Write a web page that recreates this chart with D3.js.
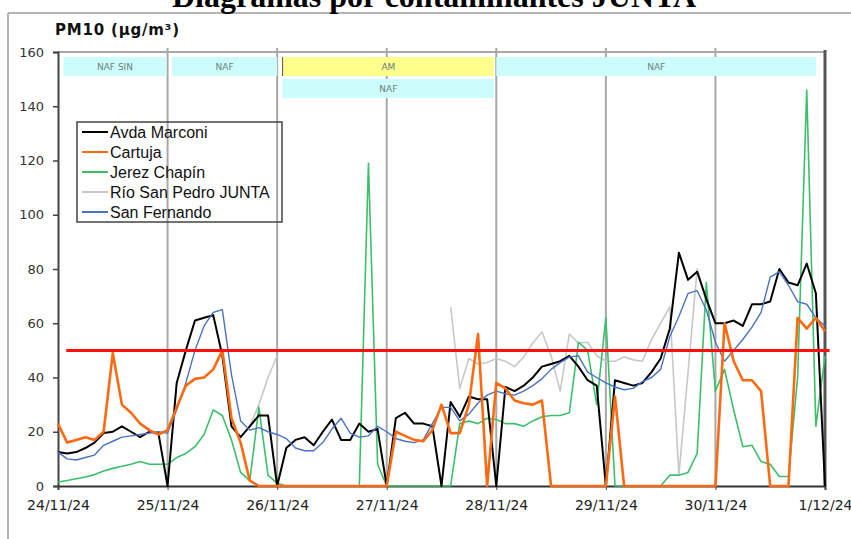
<!DOCTYPE html>
<html>
<head>
<meta charset="utf-8">
<script src="https://cdn.jsdelivr.net/npm/d3@7"></script>
<style>
  body { margin: 0; background: #fff; }
  svg { display: block; }
</style>
</head>
<body>
<div id="canvas"></div>
<script>
// PM10 hourly-ish series, one value every 2 hours from 24/11/24 00:00 to 1/12/24 00:00
var stepHours = 2;

var avdaMarconi = [12.5, 12, 12.5, 14, 16, 19.5, 20, 22, 20, 18, 20, 19.5,
  0, 38, 50, 61, 62, 63, 48, 22, 18, 22, 26, 26,
  0, 14, 17, 18, 15, 20, 24.5, 17, 17, 23, 20, 21,
  0, 25, 27, 23, 23, 22, 0, 31, 25.5, 33, 32, 32,
  0, 36.5, 35, 37, 40, 44, 45, 46, 48, 44, 39, 37,
  0, 39, 38, 37, 38, 42, 47, 58, 86, 76, 79, 69,
  60, 60, 61, 59, 67, 67, 68, 80, 75, 74, 82, 71,
  0];

var cartuja = [23, 16, 17, 18, 17, 20, 49, 30, 27, 23, 20.6, 19,
  20.6, 29, 37, 39.5, 40, 43, 50, 25, 16, 2, 0, 0,
  0, 0, 0, 0, 0, 0, 0, 0, 0, 0, 0, 0,
  0, 20, 18.5, 17, 16.5, 20.6, 30, 19.5, 19.5, 30, 56, 0,
  38, 36, 31.5, 30.5, 30, 31.5, 0, 0, 0, 0, 0, 0,
  0, 33, 0, 0, 0, 0, 0, 0, 0, 0, 0, 0,
  0, 60, 46, 39, 39, 35, 0, 0, 0, 62, 58, 62,
  57];

var jerezChapin = [1.5, 2, 2.7, 3.3, 4.2, 5.5, 6.5, 7.3, 8, 9, 8, 8,
  8, 10.5, 12, 14.5, 19, 28, 26, 17, 5, 2, 29, 4,
  1, 0, 0, 0, 0, 0, 0, 0, 0, 0, 119, 8,
  0, 0, 0, 0, 0, 0, 0, 0, 23, 24, 23, 25,
  24.5, 23, 23, 22, 24, 25.5, 26, 26, 27, 53, 50, 30,
  62, 0, 0, 0, 0, 0, 0, 4, 4, 5, 12, 75,
  35, 43, 28, 14.5, 15, 9, 8, 3.5, 3.5, 40, 146, 22,
  48];

var rioSanPedro = [null, null, null, null, null, null, null, null, null, null, null, null,
  null, null, null, null, null, null, null, null, null, 22, 30, 40,
  48, null, null, null, null, null, null, null, null, null, null, null,
  null, null, null, null, null, null, null, 66, 36, 47, 45, 45.5,
  47, 46, 44, 47.5, 52.7, 56.8, 48, 35, 56, 52.7, 53, 48,
  46, 46, 47.6, 46.5, 46, 54, 60, 66, 4, 42, 80, 68,
  60, null, null, null, null, null, null, null, null, null, null, null,
  null];

var sanFernando = [12.5, 10, 9.6, 10.5, 11.4, 15, 16.5, 18, 18.5, 19, 19.5, 20,
  19.5, 28, 38, 50, 59, 64, 65, 41, 24, 20.6, 21.5, 20,
  19, 17.5, 14, 13, 13, 16, 21, 25, 19.5, 18, 18.5, 22,
  20, 17.5, 16.5, 16, 17, 23, 29, 29, 24, 26.5, 30.6, 33.5,
  35, 34, 33.5, 35, 37, 39.5, 43, 45.5, 47.5, 48, 42, 40,
  38, 36.5, 35.5, 36, 38.5, 40, 43, 55, 62.5, 71, 72, 65,
  53, 46, 50, 54, 58.6, 64, 77, 79, 74, 68, 67, 62,
  59];

var seriesNames = ['Avda Marconi', 'Cartuja', 'Jerez Chapín', 'Río San Pedro JUNTA', 'San Fernando'];
var seriesValues = [avdaMarconi, cartuja, jerezChapin, rioSanPedro, sanFernando];

var dayLabels = ['24/11/24', '25/11/24', '26/11/24', '27/11/24', '28/11/24', '29/11/24', '30/11/24', '1/12/24'];
var yTicks = [0, 20, 40, 60, 80, 100, 120, 140, 160];
var limitValue = 50;

// Episode bands (start/end in days from 24/11 00:00)
var bandLabels = ['NAF SIN', 'NAF', 'AM', 'NAF', 'NAF'];
var bandStart = [0.05, 1.04, 2.05, 2.05, 4.0];
var bandEnd = [0.99, 2.0, 3.98, 3.98, 6.92];
var bandRow = [0, 0, 0, 1, 0];
var bandKind = ['naf', 'naf', 'am', 'naf', 'naf'];

var width = 851, height = 539;
var plot = { left: 58, right: 825, top: 52, bottom: 486 };

var colors = ['#000000', '#ff6a10', '#3cbf6a', '#c8c8c8', '#4a72c4'];
var strokes = [2, 2.6, 1.6, 1.6, 1.4];

var svg = d3.select('#canvas').append('svg')
  .attr('width', width)
  .attr('height', height);

var x = d3.scaleLinear().domain([0, 168]).range([plot.left, plot.right]);
var y = d3.scaleLinear().domain([0, 160]).range([plot.bottom, plot.top]);

// outer frame of the chart picture
svg.append('line').attr('x1', 8).attr('x2', width).attr('y1', 13).attr('y2', 13)
  .attr('stroke', '#b4b4b4').attr('stroke-width', 2);
svg.append('line').attr('x1', 8).attr('x2', 8).attr('y1', 13).attr('y2', height)
  .attr('stroke', '#b4b4b4').attr('stroke-width', 2);

// title, cut at the top of the picture
svg.append('text')
  .attr('x', 434).attr('y', 7)
  .attr('text-anchor', 'middle')
  .style('font-family', '"Liberation Serif", "Times New Roman", serif')
  .style('font-weight', 'bold')
  .style('font-size', '32px')
  .text('Diagramas por contaminantes JUNTA');

svg.append('text')
  .attr('x', 55).attr('y', 35)
  .style('font-family', '"DejaVu Sans", Verdana, sans-serif')
  .style('font-weight', 'bold')
  .style('font-size', '15px')
  .style('letter-spacing', '0.8px')
  .attr('fill', '#111')
  .text('PM10 (µg/m³)');

// day gridlines
var dayHours = d3.range(dayLabels.length).map(function(d) { return d * 24; });
svg.append('g').selectAll('line')
  .data(dayHours.slice(1, -1))
  .join('line')
  .attr('x1', function(d) { return x(d); })
  .attr('x2', function(d) { return x(d); })
  .attr('y1', plot.top - 4)
  .attr('y2', plot.bottom)
  .attr('stroke', '#a8a8a8')
  .attr('stroke-width', 2);

// top border of the plot
svg.append('line').attr('x1', plot.left).attr('x2', plot.right)
  .attr('y1', plot.top).attr('y2', plot.top)
  .attr('stroke', '#a8a8a8').attr('stroke-width', 2);

// episode bands
var bandH = 19, bandGap = 3, bandTop = 57;
var bands = svg.append('g');
bandLabels.forEach(function(label, i) {
  var x0 = x(bandStart[i] * 24), x1 = x(bandEnd[i] * 24);
  var by = bandTop + bandRow[i] * (bandH + bandGap);
  bands.append('rect')
    .attr('x', x0).attr('y', by)
    .attr('width', x1 - x0).attr('height', bandH)
    .attr('fill', bandKind[i] === 'am' ? '#ffff8c' : '#ccfcfc');
  if (bandKind[i] === 'am') {
    bands.append('line').attr('x1', x0).attr('x2', x0).attr('y1', by).attr('y2', by + bandH)
      .attr('stroke', '#555').attr('stroke-width', 1);
  }
  bands.append('text')
    .attr('x', (x0 + x1) / 2).attr('y', by + 13)
    .attr('text-anchor', 'middle')
    .style('font-family', '"DejaVu Sans", Verdana, sans-serif')
    .style('font-size', '9px')
    .attr('fill', '#6b8080')
    .text(label);
});

// y axis
var yAxis = d3.axisLeft(y).tickValues(yTicks).tickSize(5).tickPadding(9);
var gy = svg.append('g').attr('transform', 'translate(' + plot.left + ',0)').call(yAxis);
gy.select('.domain').attr('stroke', '#444').attr('stroke-width', 2);
gy.selectAll('.tick line').attr('stroke', '#444').attr('stroke-width', 1.5);
gy.selectAll('.tick text')
  .style('font-family', '"DejaVu Sans", Verdana, sans-serif')
  .style('font-size', '13px')
  .attr('fill', '#333');

// x axis
var xAxis = d3.axisBottom(x).tickValues(dayHours)
  .tickFormat(function(d, i) { return dayLabels[i]; })
  .tickSize(4).tickPadding(10);
var gx = svg.append('g').attr('transform', 'translate(0,' + plot.bottom + ')').call(xAxis);
gx.select('.domain').attr('stroke', '#333').attr('stroke-width', 2);
gx.selectAll('.tick line').attr('stroke', '#444');
gx.selectAll('.tick text')
  .style('font-family', '"DejaVu Sans", Verdana, sans-serif')
  .style('font-size', '14px')
  .attr('fill', '#222');

// right border
svg.append('line').attr('x1', plot.right).attr('x2', plot.right)
  .attr('y1', plot.top - 2).attr('y2', plot.bottom)
  .attr('stroke', '#555').attr('stroke-width', 3);

// series lines
var line = d3.line()
  .defined(function(d) { return d !== null; })
  .x(function(d, i) { return x(i * stepHours); })
  .y(function(d) { return y(d); });

var drawOrder = [3, 2, 0, 4, 1];
drawOrder.forEach(function(s) {
  svg.append('path')
    .datum(seriesValues[s])
    .attr('d', line)
    .attr('fill', 'none')
    .attr('stroke', colors[s])
    .attr('stroke-width', strokes[s])
    .attr('stroke-linejoin', 'round');
});

// limit line
svg.append('line')
  .attr('x1', x(1.8)).attr('x2', x(169))
  .attr('y1', y(limitValue)).attr('y2', y(limitValue))
  .attr('stroke', '#ff1010').attr('stroke-width', 3);

// legend
var legend = svg.append('g').attr('transform', 'translate(77,122)');
legend.append('rect')
  .attr('width', 205).attr('height', 100)
  .attr('fill', 'none')
  .attr('stroke', '#444').attr('stroke-width', 1.5);
seriesNames.forEach(function(name, i) {
  var ly = 10 + i * 20;
  legend.append('line')
    .attr('x1', 5).attr('x2', 31).attr('y1', ly).attr('y2', ly)
    .attr('stroke', colors[i]).attr('stroke-width', 2);
  legend.append('text')
    .attr('x', 33).attr('y', ly + 6)
    .style('font-family', '"Liberation Sans", Arial, sans-serif')
    .style('font-size', '16px')
    .attr('fill', '#111')
    .text(name);
});
</script>
</body>
</html>
